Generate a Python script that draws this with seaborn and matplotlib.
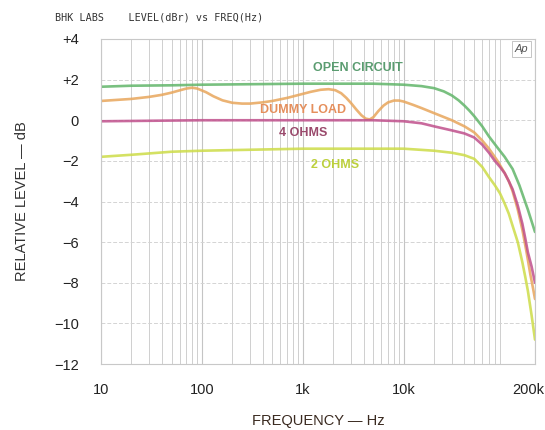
import numpy as np
import pandas as pd
import matplotlib
matplotlib.use("Agg")
import matplotlib.pyplot as plt
import matplotlib.transforms as mtransforms
import seaborn as sns
from matplotlib.ticker import FixedLocator, NullFormatter

# ---- data ----
oc_f = [10, 20, 50, 100, 1000, 5000, 10000, 15000, 20000, 25000, 30000, 35000,
        40000, 45000, 50000, 60000, 70000, 85000, 100000, 120000, 140000,
        170000, 200000]
oc_db = [1.65, 1.7, 1.72, 1.75, 1.8, 1.8, 1.75, 1.68, 1.58, 1.42, 1.22, 0.98,
         0.72, 0.46, 0.2, -0.3, -0.8, -1.35, -1.8, -2.4, -3.2, -4.4, -5.5]

dl_f = [10, 20, 30, 40, 50, 60, 70, 80, 90, 110, 130, 160, 200, 250, 300, 400,
        500, 700, 900, 1200, 1500, 1800, 2100, 2400, 2700, 3000, 3400, 3800,
        4200, 4600, 5000, 5600, 6300, 7000, 8000, 9000, 10000, 12500, 15000,
        20000, 30000, 40000, 50000, 60000, 70000, 85000, 100000, 110000,
        120000, 135000, 150000, 165000, 180000, 190000, 200000]
dl_db = [0.95, 1.05, 1.15, 1.25, 1.36, 1.47, 1.56, 1.6, 1.56, 1.38, 1.18,
         0.98, 0.86, 0.82, 0.82, 0.88, 0.95, 1.1, 1.24, 1.4, 1.5, 1.53, 1.48,
         1.33, 1.1, 0.85, 0.52, 0.25, 0.08, 0.04, 0.15, 0.45, 0.72, 0.88,
         0.97, 0.97, 0.92, 0.75, 0.6, 0.35, 0.0, -0.3, -0.6, -1.0, -1.4,
         -2.0, -2.6, -3.0, -3.5, -4.4, -5.4, -6.5, -7.6, -8.2, -8.8]

o4_f = [10, 100, 1000, 5000, 10000, 15000, 20000, 30000, 40000, 50000, 60000,
        70000, 80000, 90000, 100000, 110000, 120000, 135000, 150000, 160000,
        170000, 185000, 200000]
o4_db = [-0.05, 0.0, 0.0, 0.0, -0.05, -0.15, -0.3, -0.5, -0.65, -0.85, -1.2,
         -1.6, -2.0, -2.3, -2.6, -3.0, -3.4, -4.2, -5.1, -5.8, -6.5, -7.2, -8.0]

o2_f = [10, 20, 50, 100, 1000, 5000, 10000, 20000, 30000, 40000, 50000, 60000,
        70000, 80000, 90000, 100000, 110000, 120000, 135000, 150000, 160000,
        170000, 185000, 200000]
o2_db = [-1.8, -1.7, -1.55, -1.5, -1.4, -1.4, -1.4, -1.5, -1.6, -1.72, -1.9,
         -2.3, -2.8, -3.2, -3.6, -4.1, -4.6, -5.2, -6.0, -7.0, -7.7, -8.4,
         -9.6, -10.8]

series_names = ["OPEN CIRCUIT", "DUMMY LOAD", "4 OHMS", "2 OHMS"]
line_colors = ["#62b56a", "#e8a65c", "#c0508c", "#cddc48"]
text_colors = ["#5a9c70", "#e58f5c", "#9a4a6c", "#bcd03c"]
label_pos_f = [3500, 1000, 1000, 2100]
label_pos_db = [2.55, 0.5, -0.65, -2.2]

x_ticks = [10, 100, 1000, 10000, 200000]
x_tick_labels = ["10", "100", "1k", "10k", "200k"]
y_ticks = [4, 2, 0, -2, -4, -6, -8, -10, -12]
y_tick_labels = ["+4", "+2", "0", "\u22122", "\u22124", "\u22126", "\u22128", "\u221210", "\u221212"]

# ---- build long table ----
frames = []
for name, f, d in zip(series_names, [oc_f, dl_f, o4_f, o2_f], [oc_db, dl_db, o4_db, o2_db]):
    frames.append(pd.DataFrame({"freq": f, "db": d, "series": name}))
df = pd.concat(frames, ignore_index=True)

sns.set_theme(style="white")
plt.rcParams["font.family"] = ["Liberation Sans", "DejaVu Sans"]

fig = plt.figure(figsize=(5.45, 4.30), dpi=100)
ax = fig.add_axes([101 / 545, 1 - 364 / 430, (535 - 101) / 545, (364 - 39) / 430])

sns.lineplot(data=df, x="freq", y="db", hue="series", hue_order=series_names,
             palette=line_colors, linewidth=1.9, alpha=0.85, ax=ax, legend=False,
             sort=True, estimator=None)

ax.set_xscale("log")
ax.set_xlim(10, 200000)
ax.set_ylim(-12, 4)

# grid
minor = []
for dec in [10, 100, 1000, 10000, 100000]:
    for m in range(2, 10):
        v = dec * m
        if v <= 200000:
            minor.append(v)
ax.xaxis.set_minor_locator(FixedLocator(minor))
ax.xaxis.set_minor_formatter(NullFormatter())
ax.set_xticks(x_ticks)
ax.set_xticklabels(x_tick_labels)
ax.set_yticks(y_ticks)
ax.set_yticklabels(y_tick_labels)
ax.grid(True, which="major", axis="x", color="#c4c4c4", linewidth=0.8)
ax.grid(True, which="minor", axis="x", color="#cfcfcf", linewidth=0.7)
ax.grid(True, which="major", axis="y", color="#d4d4d4", linewidth=0.7, linestyle=(0, (4, 2)))
ax.set_axisbelow(True)
for s in ax.spines.values():
    s.set_color("#c8c8c8")
    s.set_linewidth(0.8)

ax.tick_params(axis="both", which="both", length=0, labelsize=10.5, colors="#222222")
ax.tick_params(axis="x", pad=14)
ax.tick_params(axis="y", pad=16)

# last x tick label sits at the right edge: shift it left so it stays inside
last = ax.get_xticklabels()[-1]
last.set_ha("right")
last.set_transform(last.get_transform() + mtransforms.ScaledTranslation(9 / 100, 0, fig.dpi_scale_trans))

ax.set_xlabel("FREQUENCY \u2014 Hz", fontsize=10.5, color="#3a2a20", labelpad=12)
ax.set_ylabel("RELATIVE LEVEL \u2014 dB", fontsize=10.5, color="#333333", labelpad=18)

for name, c, fx, fy in zip(series_names, text_colors, label_pos_f, label_pos_db):
    ax.text(fx, fy, name, color=c, fontsize=9, ha="center", va="center",
            fontweight="semibold")

ax.text(0.985, 0.985, "Ap", transform=ax.transAxes, ha="right", va="top",
        fontsize=8, fontstyle="italic", color="#555555",
        bbox=dict(boxstyle="square,pad=0.25", fc="white", ec="#bbbbbb", lw=0.6))

fig.text(55 / 545, 1 - 18 / 430, "BHK LABS    LEVEL(dBr) vs FREQ(Hz)", fontsize=7.3,
         color="#333333", ha="left", va="center", family="DejaVu Sans Mono")

fig.savefig("out.png", dpi=100)
